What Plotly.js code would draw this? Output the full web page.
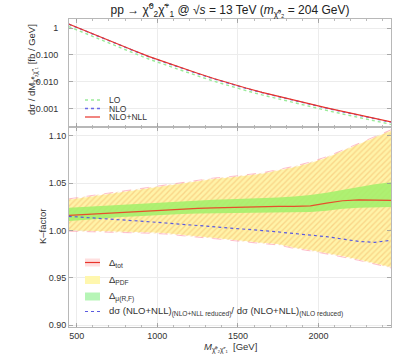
<!DOCTYPE html>
<html>
<head>
<meta charset="utf-8">
<script src="https://cdn.plot.ly/plotly-3.0.1.min.js"></script>
<style>
  html, body { margin: 0; padding: 0; background: #fff; }
  #chart { width: 407px; height: 360px; }
</style>
</head>
<body>
<div id="chart"></div>
<script>
// invariant mass grid [GeV]
const mass = [450, 550, 650, 750, 850, 950, 1050, 1150, 1250, 1350, 1450,
              1550, 1650, 1750, 1850, 1950, 2050, 2150, 2250, 2350, 2450];

// dsigma/dM [fb/GeV]
const xsecLO  = [1.13, 0.635, 0.362, 0.206, 0.118, 0.0681, 0.0415, 0.0259, 0.0163, 0.0104, 0.0068,
                 0.0046, 0.00318, 0.00226, 0.0016, 0.00116, 0.00084, 0.00062, 0.00046, 0.00034, 0.000253];
const xsecNLO = [1.391, 0.781, 0.444, 0.252, 0.145, 0.0833, 0.0508, 0.0317, 0.0199, 0.0127, 0.0083,
                 0.00561, 0.00388, 0.00275, 0.00195, 0.00141, 0.00102, 0.000752, 0.000557, 0.000413, 0.000306];
const xsecNLL = [1.413, 0.794, 0.452, 0.257, 0.148, 0.0851, 0.0519, 0.0324, 0.0204, 0.0130, 0.00851,
                 0.00575, 0.00398, 0.00282, 0.00200, 0.00145, 0.00105, 0.000776, 0.000575, 0.000427, 0.000316];

// K-factor panel
const kCentral = [1.016, 1.017, 1.018, 1.019, 1.020, 1.021, 1.022, 1.023, 1.0235, 1.024, 1.0245,
                  1.025, 1.0255, 1.0255, 1.0255, 1.026, 1.029, 1.0315, 1.0325, 1.0325, 1.032];
const kReduced = [1.015, 1.014, 1.013, 1.0118, 1.0105, 1.0093, 1.008, 1.0068, 1.0055, 1.004, 1.0028,
                  1.0015, 1.0, 0.9985, 0.997, 0.995, 0.9935, 0.991, 0.9885, 0.9875, 0.9897];
const totUp = [1.0335, 1.036, 1.0385, 1.041, 1.0435, 1.046, 1.0485, 1.051, 1.053, 1.0555, 1.057,
               1.059, 1.061, 1.0645, 1.068, 1.0725, 1.078, 1.085, 1.092, 1.099, 1.1065];
const totLo = [0.9993, 0.999, 0.9985, 0.998, 0.9975, 0.9972, 0.9963, 0.995, 0.993, 0.9915, 0.9895,
               0.9877, 0.9862, 0.9848, 0.981, 0.9785, 0.9755, 0.972, 0.9685, 0.9645, 0.9605];
const pdfUp = [1.0325, 1.035, 1.0375, 1.040, 1.0425, 1.045, 1.0475, 1.050, 1.052, 1.0545, 1.056,
               1.058, 1.060, 1.0635, 1.067, 1.0715, 1.077, 1.084, 1.091, 1.098, 1.1055];
const pdfLo = [1.0003, 1.0, 0.9995, 0.999, 0.9985, 0.9982, 0.9973, 0.996, 0.994, 0.9925, 0.9905,
               0.9887, 0.9872, 0.9858, 0.982, 0.9795, 0.9765, 0.973, 0.9695, 0.9655, 0.9615];
const scaleUp = [1.024, 1.025, 1.026, 1.027, 1.028, 1.029, 1.030, 1.031, 1.032, 1.0325, 1.033,
                 1.0335, 1.034, 1.035, 1.036, 1.0375, 1.040, 1.043, 1.046, 1.049, 1.051];
const scaleLo = [1.010, 1.011, 1.0125, 1.014, 1.015, 1.016, 1.017, 1.0175, 1.018, 1.0182, 1.0185,
                 1.0185, 1.0187, 1.0187, 1.019, 1.0195, 1.021, 1.023, 1.024, 1.0245, 1.025];

const xTicks = [500, 1000, 1500, 2000];
const topTickVals = [1, 0.1, 0.01, 0.001];
const topTickText = ['1', '0.100', '0.010', '0.001'];
const kTickVals = [0.90, 0.95, 1.00, 1.05, 1.10];
const kTickText = ['0.90', '0.95', '1.00', '1.05', '1.10'];

const CHI = 'χ̃';
const FONT = 'Liberation Sans, Arial, sans-serif';
const TXT = '#333';

// colours
const C_LO = '#9aeb9a', C_NLO = '#6a6ae8', C_NLL = '#e8332a';
const C_K = '#e6502c', C_RED = '#5a5ae0';
const C_PDF = '#fff3a8', C_HATCH = 'rgba(245,190,110,0.55)';
const C_SCALE = 'rgba(160,240,105,0.85)', C_EDGE = 'rgba(255,150,175,0.6)';

// plot area in page pixels, used to place the hand made legends
const PL = 69, PR = 391, PT = 19, PB = 327;
const px = v => (v - PL) / (PR - PL);
const py = v => (PB - v) / (PB - PT);

const traces = [
  // top panel
  { x: mass, y: xsecLO, xaxis: 'x2', yaxis: 'y2', mode: 'lines', name: 'LO',
    line: { color: C_LO, width: 1.4, dash: 'dot' } },
  { x: mass, y: xsecNLO, xaxis: 'x2', yaxis: 'y2', mode: 'lines', name: 'NLO',
    line: { color: C_NLO, width: 1.4, dash: 'dot' } },
  { x: mass, y: xsecNLL, xaxis: 'x2', yaxis: 'y2', mode: 'lines', name: 'NLO+NLL',
    line: { color: C_NLL, width: 1.2 } },

  // bottom panel: PDF band
  { x: mass, y: pdfLo, mode: 'lines', line: { width: 0 } },
  { x: mass, y: pdfUp, mode: 'lines', line: { width: 0 }, fill: 'tonexty', fillcolor: C_PDF },
  // total band, hatched
  { x: mass, y: totLo, mode: 'lines', line: { color: C_EDGE, width: 1, dash: 'dash' } },
  { x: mass, y: totUp, mode: 'lines', line: { color: C_EDGE, width: 1, dash: 'dash' },
    fill: 'tonexty', fillcolor: 'rgba(0,0,0,0)',
    fillpattern: { shape: '/', fgcolor: C_HATCH, bgcolor: 'rgba(0,0,0,0)', size: 4, solidity: 0.35 } },
  // scale band
  { x: mass, y: scaleLo, mode: 'lines', line: { width: 0 } },
  { x: mass, y: scaleUp, mode: 'lines', line: { width: 0 }, fill: 'tonexty', fillcolor: C_SCALE },
  // central lines
  { x: mass, y: kCentral, mode: 'lines', line: { color: C_K, width: 1.2 } },
  { x: mass, y: kReduced, mode: 'lines', line: { color: C_RED, width: 1.2, dash: 'dot' } }
];

// legends drawn by hand so the rows can sit as tight as in the reference
const topLegend = [
  { text: 'LO', y: 100, color: C_LO, dash: 'dot' },
  { text: 'NLO', y: 108.5, color: C_NLO, dash: 'dot' },
  { text: 'NLO+NLL', y: 117, color: C_NLL, dash: 'solid' }
];
const kLegend = [
  { text: 'Δ<sub>tot</sub>', y: 262.5, kind: 'tot' },
  { text: 'Δ<sub>PDF</sub>', y: 280, kind: 'pdf' },
  { text: 'Δ<sub>μ(R,F)</sub>', y: 296.5, kind: 'scale' },
  { text: 'dσ (NLO+NLL)<sub>(NLO+NLL reduced)</sub>/ dσ (NLO+NLL)<sub>(NLO reduced)</sub>', y: 311.5, kind: 'line' }
];

const shapes = [];
const annotations = [];

topLegend.forEach(e => {
  shapes.push({ type: 'line', xref: 'paper', yref: 'paper',
    x0: px(85), x1: px(100), y0: py(e.y), y1: py(e.y),
    line: { color: e.color, width: e.dash === 'solid' ? 1.2 : 1.5, dash: e.dash } });
  annotations.push({ xref: 'paper', yref: 'paper', x: px(107), y: py(e.y),
    xanchor: 'left', yanchor: 'middle', showarrow: false, text: e.text,
    font: { family: FONT, size: 8.5, color: TXT } });
});

kLegend.forEach(e => {
  const y0 = py(e.y + 4), y1 = py(e.y - 4);
  if (e.kind === 'tot') {
    shapes.push({ type: 'rect', xref: 'paper', yref: 'paper', x0: px(85), x1: px(100), y0, y1,
      fillcolor: 'rgba(255,185,185,0.45)', line: { width: 0 } });
    shapes.push({ type: 'line', xref: 'paper', yref: 'paper', x0: px(85), x1: px(100),
      y0: py(e.y), y1: py(e.y), line: { color: C_NLL, width: 1.2 } });
  } else if (e.kind === 'pdf') {
    shapes.push({ type: 'rect', xref: 'paper', yref: 'paper', x0: px(85), x1: px(100), y0, y1,
      fillcolor: '#fff7ae', line: { width: 0 } });
  } else if (e.kind === 'scale') {
    shapes.push({ type: 'rect', xref: 'paper', yref: 'paper', x0: px(85), x1: px(100), y0, y1,
      fillcolor: '#b6f5b6', line: { width: 0 } });
  } else {
    shapes.push({ type: 'line', xref: 'paper', yref: 'paper', x0: px(85), x1: px(100),
      y0: py(e.y), y1: py(e.y), line: { color: C_RED, width: 1.2, dash: 'dot' } });
  }
  annotations.push({ xref: 'paper', yref: 'paper', x: px(107), y: py(e.y),
    xanchor: 'left', yanchor: 'middle', showarrow: false, text: e.text,
    font: { family: FONT, size: 9.5, color: TXT } });
});

// axis titles
annotations.push({ xref: 'paper', yref: 'paper', x: px(32), y: py(70), textangle: -90,
  xanchor: 'center', yanchor: 'middle', showarrow: false,
  text: 'dσ / dM<sub>' + CHI + '⁰₂' + CHI + '⁺₁</sub> [fb / GeV]',
  font: { family: FONT, size: 9.5, color: TXT } });
annotations.push({ xref: 'paper', yref: 'paper', x: px(42), y: py(227), textangle: -90,
  xanchor: 'center', yanchor: 'middle', showarrow: false, text: 'K–factor',
  font: { family: FONT, size: 9.5, color: TXT } });
annotations.push({ xref: 'paper', yref: 'paper', x: 0.5, y: py(347),
  xanchor: 'center', yanchor: 'middle', showarrow: false,
  text: '<i>M</i><sub>' + CHI + '⁰₂' + CHI + '⁺₁</sub>  [GeV]',
  font: { family: FONT, size: 9.5, color: TXT } });

const frame = {
  showline: true, linecolor: '#b8b8b8', linewidth: 1, mirror: 'allticks',
  ticks: 'inside', ticklen: 4, tickcolor: '#999', tickwidth: 0.8,
  showgrid: true, gridcolor: '#ececec', gridwidth: 1, zeroline: false,
  tickfont: { family: FONT, size: 9, color: TXT }
};

const layout = {
  width: 407, height: 360,
  margin: { l: PL, r: 407 - PR, t: PT, b: 360 - PB },
  paper_bgcolor: '#fff', plot_bgcolor: '#fff',
  showlegend: false,
  title: {
    text: 'pp → ' + CHI + '<sup>0</sup><sub>2</sub>' + CHI + '<sup>+</sup><sub>1</sub> @ √<i>s</i> = 13 TeV (<i>m</i><sub>' + CHI + '⁰₂</sub> = 204 GeV)',
    font: { family: FONT, size: 12, color: '#222' },
    xref: 'paper', x: 0.5, xanchor: 'center',
    yref: 'container', y: 1 - 10 / 360, yanchor: 'middle'
  },
  xaxis: Object.assign({}, frame, {
    anchor: 'y', domain: [0, 1], range: [452, 2450],
    tickvals: xTicks,
    minor: { dtick: 100, tick0: 0, ticks: 'inside', ticklen: 2, tickcolor: '#aaa', showgrid: false }
  }),
  yaxis: Object.assign({}, frame, {
    anchor: 'x', domain: [0, py(127)], range: [0.898, 1.1095],
    tickvals: kTickVals, ticktext: kTickText
  }),
  xaxis2: Object.assign({}, frame, {
    anchor: 'y2', matches: 'x', range: [452, 2450], showticklabels: false,
    tickvals: xTicks,
    minor: { dtick: 100, tick0: 0, ticks: 'inside', ticklen: 2, tickcolor: '#aaa', showgrid: false }
  }),
  yaxis2: Object.assign({}, frame, {
    anchor: 'x2', domain: [py(127), 1], type: 'log', range: [-3.694, 0.336],
    tickvals: topTickVals, ticktext: topTickText, ticklabelstandoff: 8
  }),
  shapes: shapes,
  annotations: annotations
};

Plotly.newPlot('chart', traces, layout, { displayModeBar: false, staticPlot: true });
</script>
</body>
</html>
